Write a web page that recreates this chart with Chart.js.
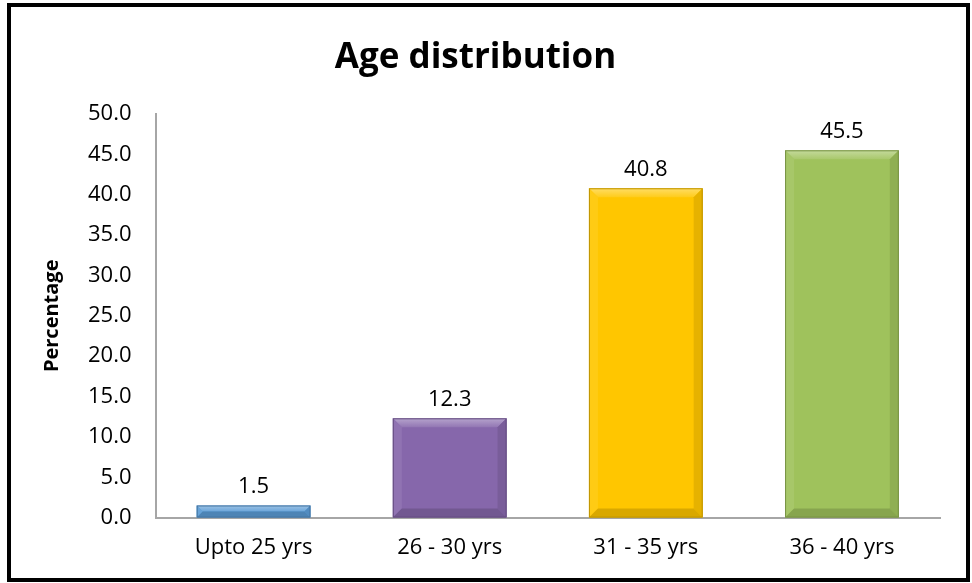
<!DOCTYPE html>
<html lang="en">
<head>
    <meta charset="UTF-8">
    <title>Age distribution</title>
    <style>
        html, body {
            margin: 0;
            padding: 0;
            background-color: white;
        }
        .frame {
            position: absolute;
            left: 7px;
            top: 3px;
            width: 955px;
            height: 571px;
            border: 4px solid black;
            background: white;
        }
        canvas {
            display: block;
        }
    </style>
</head>
<body>
    <div class="frame">
        <canvas id="ageChart" width="955" height="571"></canvas>
    </div>

    <script src="https://cdn.jsdelivr.net/npm/chart.js"></script>
    <script>
        // Chart data
        const categories = ['Upto 25 yrs', '26 - 30 yrs', '31 - 35 yrs', '36 - 40 yrs'];
        const percentages = [1.5, 12.3, 40.8, 45.5];
        const barColors = ['#5B9BD5', '#8667AB', '#FFC600', '#9FC25C'];

        const fontFamily = '"Open Sans", "Noto Sans", sans-serif';

        // Lighter / darker helpers for the bevel look
        function shade(hex, amt) {
            const n = parseInt(hex.slice(1), 16);
            let r = (n >> 16) & 255, g = (n >> 8) & 255, b = n & 255;
            if (amt > 0) {
                r = r + (255 - r) * amt; g = g + (255 - g) * amt; b = b + (255 - b) * amt;
            } else {
                r = r * (1 + amt); g = g * (1 + amt); b = b * (1 + amt);
            }
            return 'rgb(' + Math.round(r) + ',' + Math.round(g) + ',' + Math.round(b) + ')';
        }

        // Draws bevel edges on the bars and the value labels above them
        const bevelPlugin = {
            id: 'bevel',
            afterDatasetsDraw(chart) {
                const ctx = chart.ctx;
                const meta = chart.getDatasetMeta(0);
                meta.data.forEach(function(bar, i) {
                    const color = barColors[i];
                    const left = bar.x - bar.width / 2;
                    const right = bar.x + bar.width / 2;
                    const top = bar.y;
                    const bottom = bar.base;
                    const h = bottom - top;
                    const e = Math.min(9, h / 2);

                    ctx.save();
                    // top bevel
                    const g = ctx.createLinearGradient(0, top, 0, top + e);
                    g.addColorStop(0, shade(color, 0.4));
                    g.addColorStop(1, shade(color, 0.1));
                    ctx.fillStyle = g;
                    ctx.beginPath();
                    ctx.moveTo(left, top); ctx.lineTo(right, top);
                    ctx.lineTo(right - e, top + e); ctx.lineTo(left + e, top + e);
                    ctx.closePath(); ctx.fill();
                    // left bevel
                    ctx.fillStyle = shade(color, 0.08);
                    ctx.beginPath();
                    ctx.moveTo(left, top); ctx.lineTo(left + e, top + e);
                    ctx.lineTo(left + e, bottom - e); ctx.lineTo(left, bottom);
                    ctx.closePath(); ctx.fill();
                    // right bevel
                    ctx.fillStyle = shade(color, -0.1);
                    ctx.beginPath();
                    ctx.moveTo(right, top); ctx.lineTo(right - e, top + e);
                    ctx.lineTo(right - e, bottom - e); ctx.lineTo(right, bottom);
                    ctx.closePath(); ctx.fill();
                    // bottom bevel
                    ctx.fillStyle = shade(color, -0.15);
                    ctx.beginPath();
                    ctx.moveTo(left, bottom); ctx.lineTo(right, bottom);
                    ctx.lineTo(right - e, bottom - e); ctx.lineTo(left + e, bottom - e);
                    ctx.closePath(); ctx.fill();
                    // outline
                    ctx.strokeStyle = shade(color, -0.25);
                    ctx.lineWidth = 1;
                    ctx.strokeRect(left + 0.5, top + 0.5, bar.width - 1, h - 1);

                    // value label
                    ctx.fillStyle = '#000';
                    ctx.font = '22px ' + fontFamily;
                    ctx.textAlign = 'center';
                    ctx.textBaseline = 'bottom';
                    ctx.fillText(percentages[i].toFixed(1), bar.x, top - 8);
                    ctx.restore();
                });
            }
        };

        const ctx = document.getElementById('ageChart').getContext('2d');
        const ageChart = new Chart(ctx, {
            type: 'bar',
            data: {
                labels: categories,
                datasets: [{
                    label: 'Percentage',
                    data: percentages,
                    backgroundColor: barColors,
                    borderWidth: 0,
                    barPercentage: 0.58,
                    categoryPercentage: 1.0
                }]
            },
            options: {
                responsive: false,
                animation: false,
                layout: {
                    padding: { left: 0, right: 26, top: 0, bottom: 0 }
                },
                plugins: {
                    legend: { display: false },
                    tooltip: { enabled: false },
                    title: {
                        display: true,
                        text: 'Age distribution',
                        color: '#000',
                        font: { family: fontFamily, size: 35, weight: 'bold' },
                        padding: { top: 30, bottom: 35 }
                    }
                },
                scales: {
                    x: {
                        grid: { display: false, drawTicks: false },
                        border: { color: '#A6A6A6', width: 2 },
                        ticks: {
                            color: '#000',
                            font: { family: fontFamily, size: 22 },
                            padding: 17
                        }
                    },
                    y: {
                        min: 0,
                        max: 50,
                        grid: { display: false, drawTicks: false },
                        border: { color: '#A6A6A6', width: 2 },
                        ticks: {
                            stepSize: 5,
                            color: '#000',
                            font: { family: fontFamily, size: 22 },
                            padding: 24,
                            callback: function(v) { return v.toFixed(1); }
                        },
                        title: {
                            display: true,
                            text: 'Percentage',
                            color: '#000',
                            font: { family: fontFamily, size: 20, weight: 'bold' },
                            padding: { top: 29, bottom: 0 }
                        }
                    }
                }
            },
            plugins: [bevelPlugin]
        });
    </script>
</body>
</html>
